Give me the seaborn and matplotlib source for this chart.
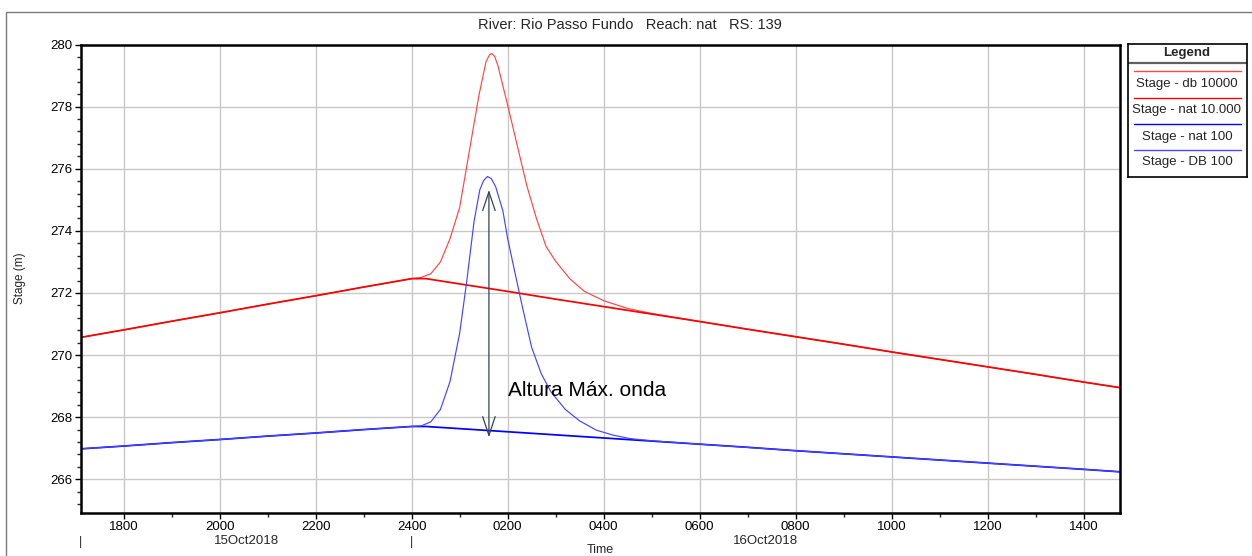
import matplotlib
matplotlib.use("Agg")
import matplotlib.pyplot as plt
import matplotlib.transforms as mtransforms
from matplotlib.ticker import FixedLocator, MultipleLocator
from matplotlib.patches import Rectangle
import pandas as pd
import seaborn as sns

# ---------------- data (hours counted from 15Oct2018 00:00) ----------------
base_hours = [17.11, 18, 19, 20, 21, 22, 23, 24, 24.3, 25, 26, 27, 28, 29, 30,
              31, 32, 33, 34, 35, 36, 37, 38, 38.76]
stage_nat_10000 = [270.57, 270.81, 271.09, 271.36, 271.64, 271.91, 272.19, 272.46,
                   272.46, 272.29, 272.05, 271.80, 271.56, 271.32, 271.08, 270.83,
                   270.59, 270.35, 270.10, 269.86, 269.62, 269.38, 269.13, 268.95]
stage_nat_100 = [266.98, 267.07, 267.18, 267.28, 267.39, 267.49, 267.60, 267.70,
                 267.70, 267.63, 267.53, 267.43, 267.33, 267.23, 267.13, 267.03,
                 266.92, 266.82, 266.72, 266.62, 266.52, 266.42, 266.32, 266.24]

db10000_hours = [17.11, 18, 19, 20, 21, 22, 23, 24, 24.2, 24.4, 24.6, 24.8, 25.0,
                 25.2, 25.4, 25.55, 25.62, 25.67, 25.73, 25.8, 26.0, 26.2, 26.4,
                 26.6, 26.8, 27.0, 27.3, 27.6, 28.0, 28.5, 29.0, 30, 32, 34, 36,
                 38, 38.76]
stage_db_10000 = [270.57, 270.81, 271.09, 271.36, 271.64, 271.91, 272.19, 272.46,
                  272.50, 272.62, 273.00, 273.75, 274.75, 276.55, 278.35, 279.45,
                  279.66, 279.71, 279.62, 279.30, 278.05, 276.75, 275.45, 274.40,
                  273.50, 273.02, 272.45, 272.05, 271.75, 271.50, 271.34, 271.08,
                  270.59, 270.10, 269.62, 269.13, 268.95]

db100_hours = [17.11, 18, 19, 20, 21, 22, 23, 24, 24.2, 24.4, 24.6, 24.8, 25.0,
               25.15, 25.3, 25.42, 25.5, 25.58, 25.66, 25.75, 25.9, 26.0, 26.15,
               26.3, 26.5, 26.7, 26.9, 27.2, 27.5, 27.85, 28.2, 28.55, 29.0, 30,
               32, 34, 36, 38, 38.76]
stage_db_100 = [266.98, 267.07, 267.18, 267.28, 267.39, 267.49, 267.60, 267.70,
                267.72, 267.85, 268.25, 269.15, 270.70, 272.40, 274.30, 275.32,
                275.62, 275.75, 275.68, 275.42, 274.65, 273.75, 272.67, 271.60,
                270.25, 269.40, 268.82, 268.25, 267.88, 267.58, 267.42, 267.31,
                267.24, 267.13, 266.92, 266.72, 266.52, 266.32, 266.24]

series_names = ["Stage - db 10000", "Stage - nat 10.000", "Stage - nat 100", "Stage - DB 100"]

x_tick_hours = [18, 20, 22, 24, 26, 28, 30, 32, 34, 36, 38]
x_tick_labels = ["1800", "2000", "2200", "2400", "0200", "0400", "0600", "0800",
                 "1000", "1200", "1400"]
day_labels = ["15Oct2018", "16Oct2018"]
day_start_hours = [17.11, 24]
day_end_hours = [24, 38.76]

arrow_hour = 25.61
arrow_top = 275.32
arrow_bottom = 267.35
annot_text = "Altura Máx. onda"
annot_hour = 26.0
annot_stage = 268.85

title = "River: Rio Passo Fundo   Reach: nat   RS: 139"

# ---------------- styling ----------------
sns.set_style("white")
plt.rcParams["font.family"] = ["Liberation Sans", "DejaVu Sans"]

W, H = 1252, 556
fig = plt.figure(figsize=(W / 100, H / 100), dpi=100)
fig.patch.set_facecolor("white")

ax_l, ax_r, ax_t, ax_b = 81, 1120, 44.5, 512.5
ax = fig.add_axes([ax_l / W, 1 - ax_b / H, (ax_r - ax_l) / W, (ax_b - ax_t) / H])

styles = {
    "Stage - db 10000": dict(color="#ff4646", lw=0.85),
    "Stage - nat 10.000": dict(color="#ff0000", lw=1.25),
    "Stage - nat 100": dict(color="#0000ff", lw=1.25),
    "Stage - DB 100": dict(color="#4646ff", lw=0.85),
}

df_list = [
    pd.DataFrame({"hour": db10000_hours, "stage": stage_db_10000}),
    pd.DataFrame({"hour": base_hours, "stage": stage_nat_10000}),
    pd.DataFrame({"hour": base_hours, "stage": stage_nat_100}),
    pd.DataFrame({"hour": db100_hours, "stage": stage_db_100}),
]
for name, d in zip(series_names, df_list):
    st = styles[name]
    sns.lineplot(data=d, x="hour", y="stage", ax=ax, color=st["color"],
                 linewidth=st["lw"], sort=False, estimator=None, legend=False,
                 solid_joinstyle="round")

ax.set_xlim(17.11, 38.76)
ax.set_ylim(264.93, 280)

ax.xaxis.set_major_locator(FixedLocator(x_tick_hours))
ax.set_xticklabels(x_tick_labels)
ax.xaxis.set_minor_locator(MultipleLocator(1))
ax.yaxis.set_major_locator(MultipleLocator(2))
ax.yaxis.set_minor_locator(MultipleLocator(0.4))
ax.tick_params(axis="both", which="major", direction="out", length=4, width=1,
               labelsize=9.5, colors="black", pad=2)
ax.tick_params(axis="both", which="minor", direction="out", length=3, width=1)
ax.tick_params(axis="x", which="both", bottom=True)
ax.tick_params(axis="y", which="both", left=True)
ax.grid(True, which="major", color="#c8c8c8", lw=1)
ax.set_axisbelow(True)
for s in ax.spines.values():
    s.set_color("black")
    s.set_linewidth(1.8)
ax.set_xlabel("")
ax.set_ylabel("")

# double-headed arrow and annotation
ax.annotate("", xy=(arrow_hour, arrow_bottom), xytext=(arrow_hour, arrow_top),
            arrowprops=dict(arrowstyle="<->,head_length=0.45,head_width=0.15",
                            color="#34425a", lw=0.9, shrinkA=0, shrinkB=0,
                            mutation_scale=30))
ax.text(annot_hour, annot_stage, annot_text, fontsize=15, ha="left", va="center",
        color="black")

# day labels below the tick labels
trans = mtransforms.blended_transform_factory(ax.transData, fig.transFigure)
for lab, h0, h1 in zip(day_labels, day_start_hours, day_end_hours):
    ax.text((h0 + h1) / 2, 1 - 541 / H, lab, transform=trans, ha="center",
            va="center", fontsize=9.5, clip_on=False)
for h0 in day_start_hours:
    ax.text(h0, 1 - 542 / H, "|", transform=trans, ha="center", va="center",
            fontsize=9, clip_on=False)

fig.text(600 / W, 1 - 544 / H, "Time", ha="center", va="top", fontsize=9)
fig.text(20 / W, 1 - 278 / H, "Stage (m)", rotation=90, ha="center", va="center",
         fontsize=8.5)
fig.text(630 / W, 1 - 25 / H, title, ha="center", va="center", fontsize=10.5)

# outer frame
fig.add_artist(Rectangle((6 / W, -0.05), 1.1, 1 - 12 / H + 0.05,
                         transform=fig.transFigure, fill=False,
                         edgecolor="#7a7a7a", lw=1.0))

# ---------------- legend panel ----------------
lg_l, lg_r, lg_t, lg_b = 1127.5, 1246.5, 44, 176.5
lax = fig.add_axes([lg_l / W, 1 - lg_b / H, (lg_r - lg_l) / W, (lg_b - lg_t) / H])
lax.set_xlim(lg_l, lg_r)
lax.set_ylim(lg_b, lg_t)
lax.set_xticks([])
lax.set_yticks([])
for s in lax.spines.values():
    s.set_color("black")
    s.set_linewidth(1.2)
lax.text((lg_l + lg_r) / 2, 52.5, "Legend", ha="center", va="center",
         fontsize=9.5, fontweight="bold")
lax.axhline(62.7, color="#606060", lw=1.6)
line_rows = [70.7, 97.5, 124, 150]
text_rows = [83.5, 110, 136.5, 162.5]
for name, ly, ty in zip(series_names, line_rows, text_rows):
    st = styles[name]
    lax.plot([1134, 1241], [ly, ly], color=st["color"], lw=1.0)
    lax.text((lg_l + lg_r) / 2, ty, name, ha="center", va="center", fontsize=9.5)

fig.savefig("out.png", dpi=100)
